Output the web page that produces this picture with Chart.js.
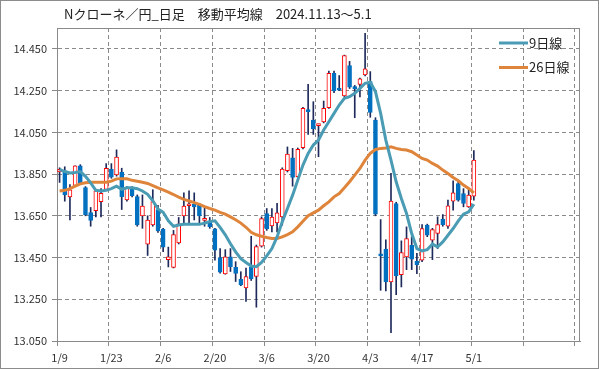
<!DOCTYPE html>
<html>
<head>
<meta charset="utf-8">
<script src="https://cdn.jsdelivr.net/npm/chart.js@4"></script>
<style>
  html, body { margin: 0; padding: 0; background: #fff; }
  #wrap { width: 599px; height: 369px; }
</style>
</head>
<body>
<div id="wrap"><canvas id="myChart" width="599" height="369"></canvas></div>
<script>
// NOK/JPY daily candles with 9 and 26 day moving averages
const dates = [
  '1/9','1/10','1/13','1/14','1/15','1/16','1/17','1/20','1/21','1/22',
  '1/23','1/24','1/27','1/28','1/29','1/30','1/31','2/3','2/4','2/5',
  '2/6','2/7','2/10','2/11','2/12','2/13','2/14','2/17','2/18','2/19',
  '2/20','2/21','2/24','2/25','2/26','2/27','2/28','3/3','3/4','3/5',
  '3/6','3/7','3/10','3/11','3/12','3/13','3/14','3/17','3/18','3/19',
  '3/20','3/21','3/24','3/25','3/26','3/27','3/28','3/31','4/1','4/2',
  '4/3','4/4','4/7','4/8','4/9','4/10','4/11','4/14','4/15','4/16',
  '4/17','4/18','4/21','4/22','4/23','4/24','4/25','4/28','4/29','4/30',
  '5/1'
];
const emptySlots = 20;

const opens = [
  13.860, 13.865, 13.740, 13.795, 13.890, 13.785, 13.665, 13.675, 13.718, 13.777,
  13.873, 13.846, 13.860, 13.726, 13.780, 13.742, 13.650, 13.514, 13.606, 13.680,
  13.586, 13.440, 13.403, 13.520, 13.650, 13.698, 13.705, 13.700, 13.628, 13.626,
  13.587, 13.450, 13.371, 13.453, 13.403, 13.346, 13.304, 13.406, 13.359, 13.505,
  13.661, 13.602, 13.616, 13.645, 13.866, 13.928, 13.837, 13.976, 14.157, 14.109,
  14.082, 14.100, 14.168, 14.333, 14.261, 14.224, 14.370, 14.269, 14.280, 14.325,
  14.293, 14.109, 13.466, 13.490, 13.333, 13.709, 13.368, 13.453, 13.509, 13.432,
  13.437, 13.605, 13.533, 13.565, 13.634, 13.600, 13.720, 13.805, 13.757, 13.693,
  13.744
];
const highs = [
  13.880, 13.885, 13.800, 13.890, 13.895, 13.790, 13.690, 13.775, 13.780, 13.900,
  13.900, 13.966, 13.878, 13.790, 13.790, 13.750, 13.750, 13.650, 13.775, 13.700,
  13.590, 13.500, 13.580, 13.642, 13.760, 13.770, 13.760, 13.710, 13.690, 13.642,
  13.590, 13.493, 13.488, 13.493, 13.430, 13.382, 13.400, 13.552, 13.510, 13.645,
  13.685, 13.685, 13.710, 13.880, 13.980, 13.973, 13.975, 14.170, 14.280, 14.197,
  14.090, 14.200, 14.344, 14.344, 14.322, 14.420, 14.390, 14.275, 14.310, 14.525,
  14.341, 14.120, 13.632, 13.535, 13.853, 13.715, 13.530, 13.597, 13.550, 13.470,
  13.608, 13.610, 13.590, 13.645, 13.656, 13.725, 13.818, 13.821, 13.780, 13.781,
  13.962
];
const lows = [
  13.810, 13.720, 13.630, 13.790, 13.800, 13.650, 13.600, 13.645, 13.645, 13.775,
  13.830, 13.840, 13.680, 13.720, 13.740, 13.600, 13.590, 13.460, 13.600, 13.570,
  13.478, 13.405, 13.400, 13.515, 13.615, 13.610, 13.630, 13.615, 13.600, 13.590,
  13.437, 13.375, 13.370, 13.383, 13.335, 13.315, 13.240, 13.340, 13.212, 13.500,
  13.580, 13.573, 13.573, 13.605, 13.860, 13.792, 13.830, 13.970, 14.040, 14.040,
  13.933, 14.095, 14.165, 14.240, 14.250, 14.220, 14.260, 14.120, 14.220, 14.320,
  14.122, 13.650, 13.293, 13.290, 13.090, 13.272, 13.309, 13.392, 13.392, 13.373,
  13.430, 13.550, 13.440, 13.493, 13.600, 13.590, 13.677, 13.720, 13.693, 13.690,
  13.725
];
const closes = [
  13.873, 13.750, 13.775, 13.889, 13.805, 13.655, 13.628, 13.770, 13.758, 13.878,
  13.835, 13.931, 13.742, 13.785, 13.747, 13.606, 13.697, 13.630, 13.718, 13.578,
  13.500, 13.453, 13.560, 13.612, 13.697, 13.702, 13.693, 13.650, 13.633, 13.598,
  13.485, 13.380, 13.453, 13.406, 13.374, 13.319, 13.359, 13.348, 13.503, 13.637,
  13.587, 13.644, 13.664, 13.874, 13.946, 13.834, 13.968, 14.165, 14.149, 14.066,
  14.088, 14.165, 14.333, 14.248, 14.252, 14.418, 14.266, 14.258, 14.306, 14.354,
  14.146, 13.658, 13.458, 13.333, 13.720, 13.362, 13.474, 13.541, 13.442, 13.416,
  13.589, 13.557, 13.584, 13.608, 13.608, 13.698, 13.760, 13.725, 13.709, 13.749,
  13.917
];
const ma9 = [
  13.873, 13.862, 13.855, 13.858, 13.862, 13.839, 13.808, 13.772, 13.769, 13.772,
  13.780, 13.792, 13.777, 13.784, 13.784, 13.780, 13.769, 13.753, 13.722, 13.683,
  13.667, 13.626, 13.600, 13.606, 13.610, 13.610, 13.610, 13.609, 13.615, 13.622,
  13.626, 13.595, 13.559, 13.516, 13.477, 13.445, 13.426, 13.409, 13.406, 13.426,
  13.458, 13.493, 13.549, 13.621, 13.685, 13.749, 13.821, 13.893, 13.949, 13.989,
  14.013, 14.061, 14.101, 14.141, 14.181, 14.213, 14.221, 14.237, 14.261, 14.285,
  14.290, 14.245, 14.141, 14.013, 13.917, 13.813, 13.733, 13.661, 13.565, 13.493,
  13.482, 13.488, 13.514, 13.501, 13.525, 13.557, 13.589, 13.626, 13.658, 13.669,
  13.706
];
const ma26 = [
  13.769, 13.772, 13.780, 13.792, 13.803, 13.808, 13.811, 13.811, 13.811, 13.811,
  13.816, 13.827, 13.828, 13.827, 13.820, 13.816, 13.811, 13.805, 13.795, 13.784,
  13.774, 13.763, 13.752, 13.740, 13.729, 13.721, 13.713, 13.705, 13.694, 13.685,
  13.677, 13.666, 13.658, 13.645, 13.631, 13.615, 13.595, 13.571, 13.559, 13.552,
  13.546, 13.541, 13.541, 13.549, 13.560, 13.573, 13.597, 13.624, 13.650, 13.664,
  13.677, 13.698, 13.717, 13.741, 13.757, 13.784, 13.813, 13.845, 13.877, 13.917,
  13.949, 13.968, 13.973, 13.975, 13.981, 13.973, 13.968, 13.965, 13.957, 13.941,
  13.925, 13.917, 13.901, 13.888, 13.869, 13.853, 13.834, 13.818, 13.797, 13.781,
  13.760
];
const yTicks = [13.05, 13.25, 13.45, 13.65, 13.85, 14.05, 14.25, 14.45];
const yMin = 13.05, yMax = 14.55;

const titleText = 'Nクローネ／円_日足　移動平均線　2024.11.13～5.1';
const seriesNames = ['9日線', '26日線'];

const UP_EDGE = '#FF0000', DOWN = '#0070C0', WICK = '#1F2A5C';
const TEAL = '#4A9BB4', ORANGE = '#DF843B';
const GRID = '#8A8A8A';

const labels = dates.concat(new Array(emptySlots).fill(''));
const isUp = opens.map((o, i) => closes[i] >= o);

Chart.defaults.font.family = '"Noto Sans CJK JP", "Noto Sans", sans-serif';
Chart.defaults.color = '#333';

const decor = {
  id: 'decor',
  beforeDatasetsDraw(chart) {
    const { ctx, chartArea: a } = chart;
    ctx.save();
    ctx.strokeStyle = GRID;
    ctx.lineWidth = 1;
    ctx.strokeRect(Math.round(a.left) + 0.5, Math.round(a.top) + 0.5,
      Math.round(a.right - a.left) - 1, Math.round(a.bottom - a.top));
    ctx.restore();
  },
  afterDraw(chart) {
    const { ctx } = chart;
    ctx.save();
    // outer frame
    ctx.strokeStyle = '#8C8C8C';
    ctx.lineWidth = 1;
    ctx.strokeRect(0.5, 0.5, chart.width - 1, chart.height - 1);
    // title
    ctx.fillStyle = '#222';
    ctx.font = '13px "Noto Sans CJK JP", sans-serif';
    ctx.textBaseline = 'middle';
    ctx.textAlign = 'left';
    ctx.fillText(titleText, 64, 14);
    // legend
    const cols = [TEAL, ORANGE];
    seriesNames.forEach((name, k) => {
      const y = 43 + k * 24.5;
      ctx.strokeStyle = cols[k];
      ctx.lineWidth = 3;
      ctx.beginPath();
      ctx.moveTo(499, y);
      ctx.lineTo(528, y);
      ctx.stroke();
      ctx.fillStyle = '#222';
      ctx.fillText(name, 529, y);
    });
    ctx.restore();
  }
};

const ctx = document.getElementById('myChart').getContext('2d');
new Chart(ctx, {
  type: 'bar',
  data: {
    labels: labels,
    datasets: [
      {
        type: 'line',
        label: seriesNames[0],
        data: ma9,
        borderColor: TEAL,
        borderWidth: 3,
        pointRadius: 0,
        tension: 0,
        order: 0
      },
      {
        type: 'line',
        label: seriesNames[1],
        data: ma26,
        borderColor: ORANGE,
        borderWidth: 3,
        pointRadius: 0,
        tension: 0,
        order: 1
      },
      {
        label: 'body',
        data: opens.map((o, i) => [Math.min(o, closes[i]), Math.max(o, closes[i])]),
        backgroundColor: isUp.map(u => u ? '#FFFFFF' : DOWN),
        borderColor: isUp.map(u => u ? UP_EDGE : DOWN),
        borderWidth: 1,
        borderSkipped: false,
        barThickness: 4,
        minBarLength: 2,
        grouped: false,
        order: 2
      },
      {
        label: 'wick',
        data: lows.map((l, i) => [l, highs[i]]),
        backgroundColor: WICK,
        barThickness: 1,
        grouped: false,
        order: 3
      }
    ]
  },
  options: {
    responsive: false,
    animation: false,
    layout: { padding: { left: 0, right: 19, top: 28, bottom: 0 } },
    plugins: {
      legend: { display: false },
      tooltip: { enabled: false },
      title: { display: false }
    },
    scales: {
      x: {
        offset: true,
        grid: {
          offset: true,
          color: c => (c.index % 10 === 0 ? GRID : 'rgba(0,0,0,0)'),
          tickLength: 5,
          tickBorderDash: []
        },
        border: { color: GRID, dash: [4, 3] },
        ticks: {
          autoSkip: false,
          maxRotation: 0,
          minRotation: 0,
          padding: 5,
          font: { size: 11 },
          callback: function (v, i) { return i % 10 === 0 ? this.getLabelForValue(v) : ''; }
        },
        afterFit(s) { s.height = 28; }
      },
      y: {
        min: yMin,
        max: yMax,
        grid: {
          color: GRID,
          tickLength: 5,
          tickBorderDash: []
        },
        border: { color: GRID, dash: [4, 3] },
        ticks: {
          padding: 5,
          font: { size: 11 },
          callback: v => v.toFixed(3)
        },
        afterBuildTicks(s) { s.ticks = yTicks.map(v => ({ value: v })); },
        afterFit(s) { s.width = 57; }
      }
    }
  },
  plugins: [decor]
});
</script>
</body>
</html>
